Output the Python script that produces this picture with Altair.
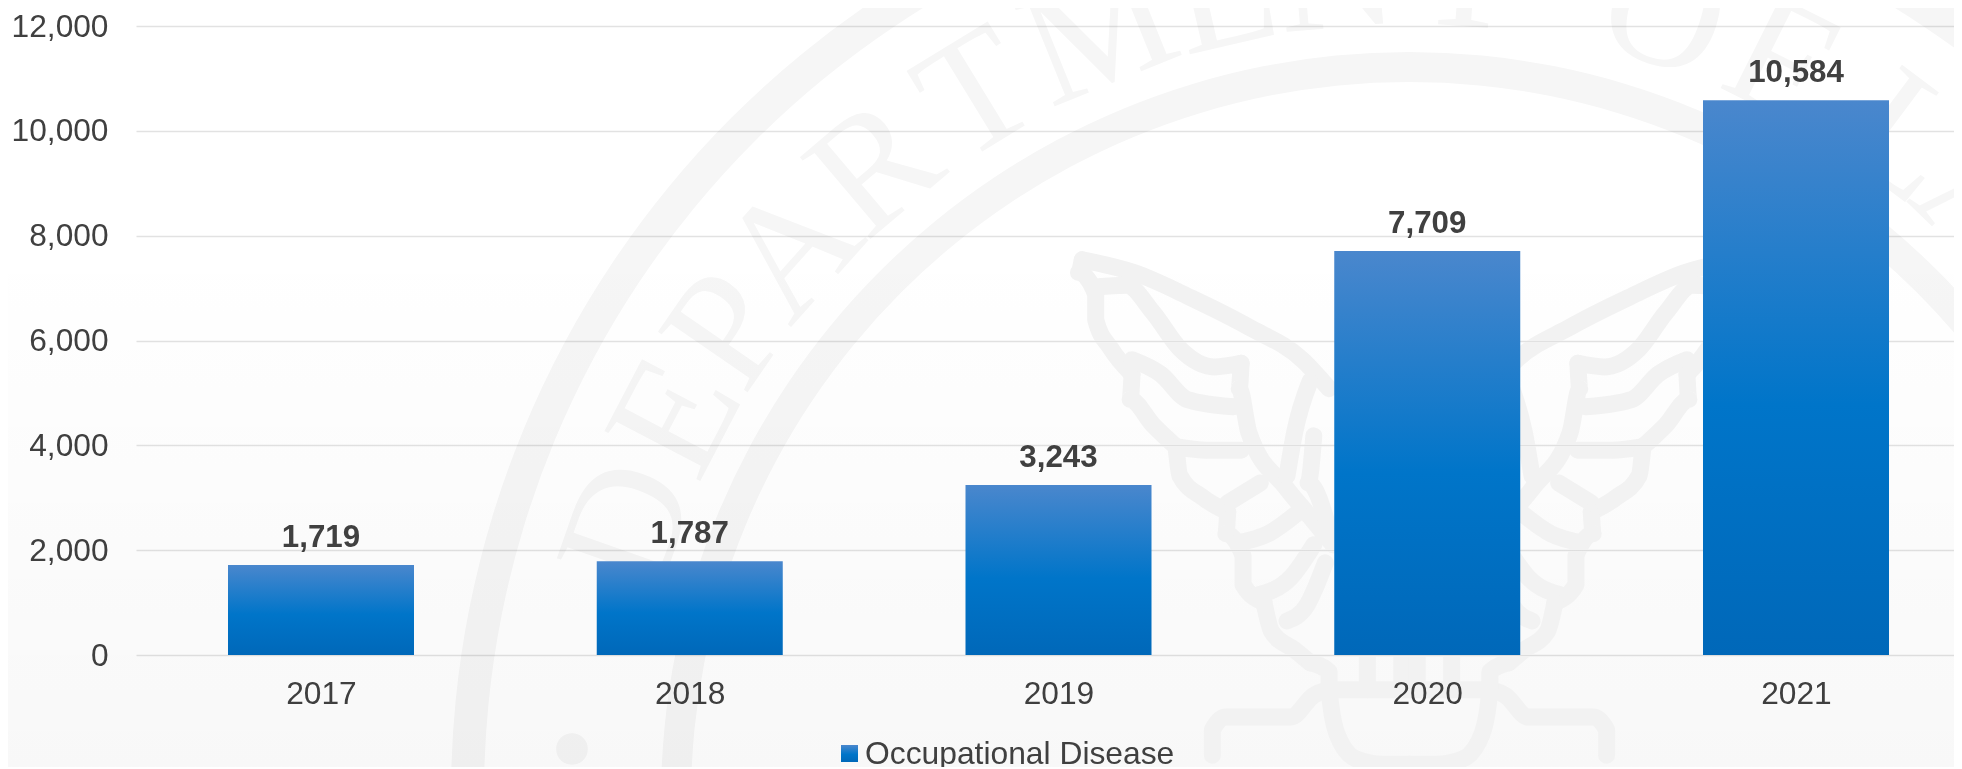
import math
import altair as alt
import pandas as pd

years = [2017, 2018, 2019, 2020, 2021]
values = [1719, 1787, 3243, 7709, 10584]
y_ticks = [0, 2000, 4000, 6000, 8000, 10000, 12000]
legend_label = "Occupational Disease"

# watermark seal
seal_letters = list("DEPARTMENTOFLA")
seal_angles = [-70.6, -62.4, -55.4, -48.3, -40.2, -31.5, -22, -13, -5, 4, 18, 26.6, 36.8, 44]
seal_center = (1409, 800)
wing_strokes = [
    [(215,165),(350,200),(500,270),(650,350),(790,440),(860,520)],
    [(215,165),(205,200),(250,260),(250,330),(290,410),(345,480)],
    [(250,240),(330,235),(400,310),(470,410),(560,460),(630,450)],
    [(630,450),(625,520),(650,640),(745,790),(800,860),(870,950)],
    [(345,440),(420,480),(490,550),(610,570)],
    [(345,480),(340,550),(400,620),(460,680)],
    [(460,680),(540,690),(630,690)],
    [(460,680),(470,760),(530,820),(595,860)],
    [(595,835),(680,780)],
    [(595,860),(590,920),(635,980),(635,1060),(690,1110)],
    [(620,945),(700,920),(780,860)],
    [(690,1110),(710,1190),(770,1240),(810,1275)],
    [(670,1090),(760,1040),(820,950)],
    [(750,1160),(800,1120),(850,1000)],
    [(810,500),(770,640),(750,760)],
    [(820,650),(805,780),(870,950)],
    [(555,1530),(555,1460),(590,1425),(760,1425),(820,1365),(870,1350),(960,1350)],
    [(810,1275),(860,1300),(860,1350),(880,1470),(930,1540),(1000,1555),(1070,1555)],
    [(960,1260),(960,1340)],
    [(1050,1260),(1050,1345)],
    [(960,1350),(1070,1350)],
]

# pixel-to-data helpers for the decorative layers
def xd(px):
    return 2017 + (px - 321) / 368.75

def yd(py):
    return 12000 * (655 - py) / 629.0

X_SCALE = alt.Scale(domain=[xd(136), xd(1954)], nice=False, zero=False, padding=0)
Y_SCALE = alt.Scale(domain=[0, 12000], nice=False, padding=0)
TEXT = "#404040"
FONT = "Liberation Sans"
FS = 31.7

AX = alt.Axis(values=years, format="d", grid=False, domain=False, ticks=False,
              labelFontSize=FS, labelFont=FONT, labelColor=TEXT,
              labelPadding=23, labelFlush=False, labelOverlap=False)
AY = alt.Axis(values=y_ticks, labelExpr="format(datum.value, ',')", grid=True,
              gridColor="#e2e2e2", gridWidth=1.6, domain=False, ticks=False,
              labelFontSize=FS, labelFont=FONT, labelColor=TEXT,
              labelPadding=28)


def X(f="x", t="Q"):
    return alt.X(f"{f}:{t}", scale=X_SCALE, axis=AX, title=None)


def Y(f="y", t="Q"):
    return alt.Y(f"{f}:{t}", scale=Y_SCALE, axis=AY, title=None)


def grad(stops):
    return alt.LinearGradient(
        gradient="linear", x1=0, x2=0, y1=0, y2=1,
        stops=[alt.GradientStop(offset=o, color=c) for o, c in stops],
    )


bar_grad = grad([(0, "#4a87cd"), (0.55, "#0075c9"), (1, "#0068b9")])

one = pd.DataFrame({"a": [0]})
bg = alt.Chart(one).mark_rect(
    color=grad([(0, "rgba(0,0,0,0)"), (0.3, "rgba(0,0,0,0)"), (1, "rgba(0,0,0,0.028)")])
).encode(x=alt.value(-128), x2=alt.value(1818), y=alt.value(-18), y2=alt.value(743))

rings = [
    alt.Chart(pd.DataFrame({"x": [xd(seal_center[0])], "y": [yd(cy)]}))
    .mark_arc(radius=r2, radius2=r1, theta=0, theta2=6.2832,
              color="#f6f6f6", blend="multiply")
    .encode(x=X(), y=Y())
    for r1, r2, cy in [(718, 748, 800), (925, 958, 795)]
]

R = 826
letters_df = pd.DataFrame({
    "t": seal_letters,
    "a": [a % 360 for a in seal_angles],
    "x": [xd(seal_center[0] + R * math.sin(math.radians(a))) for a in seal_angles],
    "y": [yd(seal_center[1] - R * math.cos(math.radians(a))) for a in seal_angles],
})
letters = alt.Chart(letters_df).mark_text(
    font="Liberation Serif", fontSize=165, align="center", baseline="middle",
    color="#f6f6f6", blend="multiply",
).encode(x=X(), y=Y(), text="t:N", angle=alt.Angle("a:Q", scale=None))

dot = alt.Chart(pd.DataFrame({"x": [xd(572)], "y": [yd(749)]})).mark_circle(
    size=1000, color="#f6f6f6", opacity=1, blend="multiply"
).encode(x=X(), y=Y())

rows = []
g = 0
for stroke in wing_strokes:
    for sign in (1, -1):
        for i, (dx, dy) in enumerate(stroke):
            mx = 1070 + sign * (dx - 1070)
            rows.append({
                "g": g, "i": i,
                "x": xd(1000 + mx / 2.613),
                "y": yd(200 + dy / 2.756),
            })
        g += 1
eagle = alt.Chart(pd.DataFrame(rows)).mark_line(
    strokeWidth=17, strokeCap="round", strokeJoin="round", interpolate="monotone",
    color="#f2f2f2", blend="darken",
).encode(x=X(), y=Y(), detail="g:N", order="i:Q")

df = pd.DataFrame({"year": years, "value": values})
bars = alt.Chart(df).mark_bar(size=186, color=bar_grad).encode(
    x=X("year"), y=Y("value"),
)
labels = alt.Chart(df).mark_text(
    font=FONT, fontSize=31.3, fontWeight="bold", color=TEXT, dy=-18,
    align="center", baseline="alphabetic",
).encode(
    x=X("year"), y=Y("value"),
    text=alt.Text("value:Q", format=","),
)

leg_sym = alt.Chart(pd.DataFrame({"x": [xd(849.5)], "y": [yd(753.5)]})).mark_square(
    size=289, color=bar_grad, opacity=1
).encode(x=X(), y=Y())
leg_txt = alt.Chart(pd.DataFrame({"x": [xd(865)], "y": [yd(764)], "t": [legend_label]})).mark_text(
    font=FONT, fontSize=31.8, color=TEXT, align="left", baseline="alphabetic"
).encode(x=X(), y=Y(), text="t:N")

chart = alt.layer(bg, *rings, letters, dot, eagle, bars, labels, leg_sym, leg_txt).properties(
    width=1818, height=629, autosize="none",
    padding={"left": 128, "top": 18, "right": 0, "bottom": 112},
    background="white",
).configure_view(stroke=None)

chart.save("out.html", embed_options={"renderer": "svg", "actions": False})
